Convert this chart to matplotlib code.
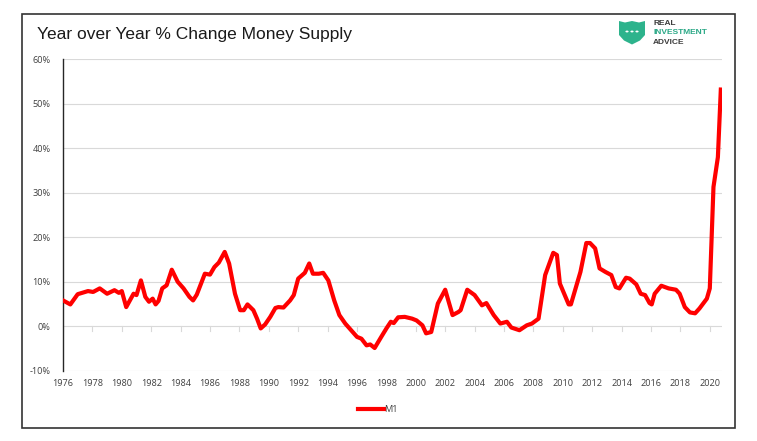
import matplotlib
matplotlib.use("Agg")
import matplotlib.pyplot as plt
import matplotlib.patches as patches
from matplotlib.lines import Line2D
from matplotlib.ticker import FuncFormatter

# M1 year-over-year % change
years = [1976.0, 1976.5, 1977.0, 1977.7, 1978.05, 1978.5, 1979.0, 1979.5, 1979.8, 1980.0,
         1980.3, 1980.8, 1981.0, 1981.3, 1981.6, 1981.85, 1982.1, 1982.3, 1982.5, 1982.75,
         1983.05, 1983.4, 1983.8, 1984.2, 1984.6, 1984.85, 1985.1, 1985.65, 1986.0, 1986.3,
         1986.6, 1987.0, 1987.3, 1987.7, 1988.05, 1988.3, 1988.55, 1988.95, 1989.2, 1989.45,
         1989.75, 1990.1, 1990.45, 1990.65, 1991.0, 1991.45, 1991.7, 1992.0, 1992.45, 1992.75,
         1993.0, 1993.4, 1993.7, 1994.05, 1994.45, 1994.8, 1995.2, 1995.6, 1996.0, 1996.3,
         1996.65, 1996.9, 1997.2, 1997.65, 1998.0, 1998.3, 1998.5, 1998.8, 1999.25, 1999.75,
         2000.05, 2000.45, 2000.7, 2001.05, 2001.5, 2002.0, 2002.5, 2002.9, 2003.05, 2003.5,
         2004.0, 2004.5, 2004.8, 2005.3, 2005.75, 2006.2, 2006.5, 2007.05, 2007.55, 2007.9,
         2008.35, 2008.8, 2009.35, 2009.6, 2009.8, 2010.4, 2010.55, 2011.2, 2011.6, 2011.85,
         2012.2, 2012.5, 2012.9, 2013.3, 2013.6, 2013.85, 2014.3, 2014.55, 2015.0, 2015.3,
         2015.6, 2015.9, 2016.05, 2016.25, 2016.7, 2017.2, 2017.7, 2017.95, 2018.3, 2018.65,
         2019.0, 2019.3, 2019.8, 2020.0, 2020.25, 2020.55, 2020.75]
m1 = [5.8, 4.9, 7.2, 7.9, 7.7, 8.5, 7.3, 8.1, 7.5, 7.9,
      4.3, 7.3, 7.0, 10.3, 6.6, 5.5, 6.2, 4.9, 5.7, 8.5,
      9.2, 12.7, 10.0, 8.5, 6.6, 5.8, 7.1, 11.8, 11.6, 13.3,
      14.3, 16.7, 14.1, 7.3, 3.6, 3.6, 4.9, 3.6, 1.7, -0.5,
      0.4, 2.1, 4.1, 4.3, 4.2, 5.8, 7.0, 10.7, 12.0, 14.1,
      11.8, 11.8, 12.0, 10.3, 5.8, 2.5, 0.6, -0.9, -2.4, -2.8,
      -4.3, -4.1, -4.9, -2.4, -0.5, 1.0, 0.7, 2.0, 2.1, 1.7,
      1.3, 0.2, -1.6, -1.3, 5.1, 8.2, 2.5, 3.2, 3.6, 8.2,
      7.0, 4.7, 5.2, 2.5, 0.6, 1.0, -0.3, -0.9, 0.2, 0.6,
      1.7, 11.5, 16.5, 16.0, 9.6, 4.9, 4.9, 12.2, 18.7, 18.7,
      17.5, 13.0, 12.2, 11.5, 8.8, 8.5, 10.9, 10.7, 9.4, 7.3,
      7.0, 5.2, 4.9, 7.3, 9.1, 8.5, 8.2, 7.3, 4.3, 3.1,
      2.9, 4.0, 6.2, 8.5, 31.3, 38.0, 53.2]

x_ticks = list(range(1976, 2021, 2))
y_ticks = [-10, 0, 10, 20, 30, 40, 50, 60]

W, H = 757, 441
fig = plt.figure(figsize=(W / 100, H / 100), dpi=100)
ax = fig.add_axes([63 / W, 1 - 370.7 / H, (722 - 63) / W, (370.7 - 59.3) / H])

ax.plot(years, m1, color="#ff0000", lw=3.0, solid_joinstyle="round", zorder=3)

ax.set_xlim(1976, 2020.83)
ax.set_ylim(-10, 60)

# gridlines and zero axis
for v in y_ticks:
    ax.axhline(v, color="#d9d9d9", lw=0.8, zorder=1)
for yr in x_ticks:
    ax.plot([yr, yr], [0, -1.1], color="#d9d9d9", lw=0.8, zorder=1)

for s in ["top", "right", "bottom"]:
    ax.spines[s].set_visible(False)
ax.spines["left"].set_color("#262626")
ax.spines["left"].set_linewidth(1.0)

tick_font = dict(family=["Open Sans", "DejaVu Sans"], size=6.6, color="#404040")
ax.set_yticks(y_ticks)
ax.yaxis.set_major_formatter(FuncFormatter(lambda v, p: f"{v:.0f}%"))
ax.set_xticks(x_ticks)
ax.set_xticklabels([str(y) for y in x_ticks])
ax.tick_params(axis="both", length=0)
ax.tick_params(axis="y", pad=9)
ax.tick_params(axis="x", pad=6)
for lab in ax.get_xticklabels() + ax.get_yticklabels():
    lab.set_fontfamily(tick_font["family"])
    lab.set_fontsize(tick_font["size"])
    lab.set_color(tick_font["color"])

# title
fig.text(37 / W, 1 - 35 / H, "Year over Year % Change Money Supply",
         family=["Liberation Sans", "DejaVu Sans"], fontsize=12.5, color="#1a1a1a",
         va="center", ha="left")

# legend
leg = fig.legend(handles=[Line2D([0], [0], color="#ff0000", lw=3.0)], labels=["M1"],
                 loc="center", bbox_to_anchor=(378 / W, 1 - 410 / H), frameon=False,
                 handlelength=2.8, handletextpad=0.1,
                 prop=dict(family=["Open Sans", "DejaVu Sans"], size=6.6))
for t in leg.get_texts():
    t.set_color("#404040")

# outer frame
fig.add_artist(patches.Rectangle((22 / W, 1 - 428 / H), (735 - 22) / W, (428 - 14) / H,
                                 transform=fig.transFigure, fill=False,
                                 edgecolor="#333333", lw=1.2))

# logo: shield + text
def fx(px):
    return px / W

def fy(py):
    return 1 - py / H

shield = [(619, 21), (625, 22.5), (632, 21), (639, 22.5), (645, 21), (645, 35),
          (640, 40.5), (632, 44.5), (624, 40.5), (619, 35)]
fig.add_artist(patches.Polygon([(fx(a), fy(b)) for a, b in shield], closed=True,
                               transform=fig.transFigure, facecolor="#2db38c",
                               edgecolor="none"))
for dx in (627, 632, 637):
    fig.add_artist(patches.Circle((fx(dx), fy(31.5)), 1.6 / W, transform=fig.transFigure,
                                  facecolor="white", edgecolor="none"))
logo_font = ["Liberation Sans", "DejaVu Sans"]
for txt, yy, col in [("REAL", 23.5, "#3d3d3d"), ("INVESTMENT", 33, "#2aa886"),
                     ("ADVICE", 42.5, "#3d3d3d")]:
    fig.text(fx(653), fy(yy), txt, family=logo_font, fontsize=6.0, fontweight="bold",
             color=col, va="center", ha="left")

fig.savefig("out.png", dpi=100, facecolor="white")
